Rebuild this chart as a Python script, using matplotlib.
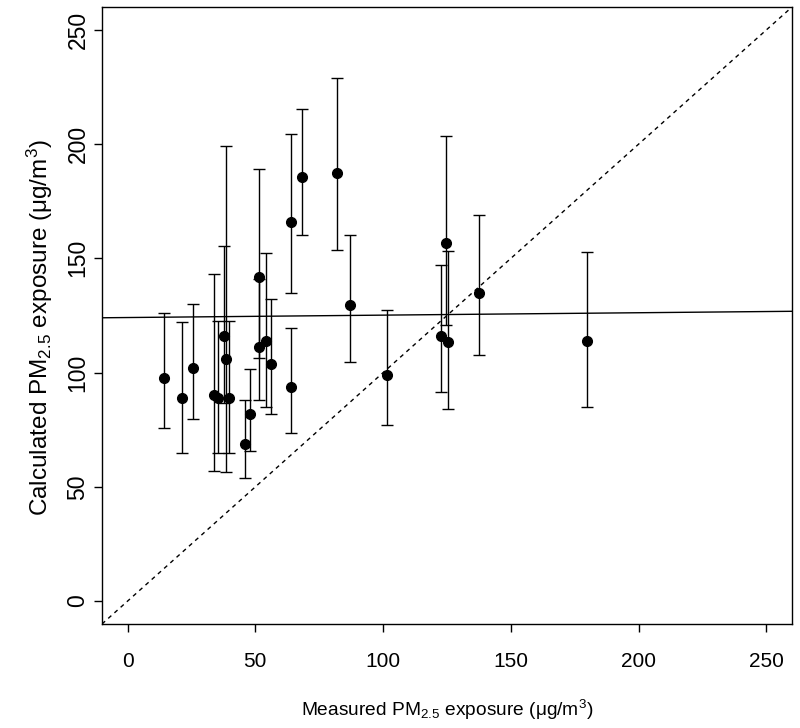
import matplotlib
matplotlib.use("Agg")
import matplotlib.pyplot as plt
import numpy as np
import warnings
warnings.filterwarnings("ignore")

# Measured vs calculated PM2.5 exposure (ug/m3) with error bars (lower/upper)
measured = [14.3, 21.4, 25.7, 34.0, 35.3, 37.9, 38.5, 39.6, 51.3, 51.3,
            54.0, 56.2, 48.1, 45.9, 63.8, 68.3, 81.8, 87.2, 64.0, 124.8,
            122.8, 125.3, 137.7, 101.4, 179.6]
calculated = [97.8, 89.0, 101.8, 90.2, 89.0, 116.0, 105.8, 89.0, 141.7, 111.3,
              113.8, 103.9, 81.7, 68.9, 165.9, 185.6, 187.4, 129.4, 93.8, 156.8,
              116.0, 113.5, 134.7, 99.0, 113.8]
lower = [75.9, 64.7, 79.9, 57.0, 64.7, 86.6, 56.5, 64.7, 106.2, 88.0,
         85.0, 81.8, 65.6, 54.0, 134.9, 160.0, 153.5, 104.6, 73.6, 120.7,
         91.6, 84.1, 107.5, 77.1, 84.9]
upper = [125.9, 122.3, 130.1, 143.3, 122.5, 155.3, 199.0, 122.5, 189.1, 140.8,
         152.5, 132.0, 101.7, 88.0, 204.4, 215.3, 228.9, 160.1, 119.5, 203.7,
         146.9, 153.1, 168.8, 127.2, 152.7]

# Fitted line
fit_intercept = 124.1
fit_slope = 0.0105

x_ticks = [0, 50, 100, 150, 200, 250]
y_ticks = [0, 50, 100, 150, 200, 250]

plt.rcParams['font.family'] = ['Liberation Sans', 'DejaVu Sans']
plt.rcParams['mathtext.fontset'] = 'custom'
plt.rcParams['mathtext.rm'] = 'Liberation Sans'
plt.rcParams['mathtext.default'] = 'regular'

fig = plt.figure(figsize=(8.0, 7.28), dpi=100)
ax = fig.add_axes([0.1275, 0.1429, 0.8625, 0.8475])

m = np.array(measured)
c = np.array(calculated)
lo = np.array(lower)
up = np.array(upper)

ax.errorbar(m, c, yerr=[c - lo, up - c], fmt='o', color='black', ecolor='black',
            elinewidth=1.0, capsize=4.5, capthick=1.0, markersize=7, zorder=3)

ax.axline((0, fit_intercept), slope=fit_slope, color='black', lw=1.0, zorder=2)
ax.axline((0, 0), slope=1, color='black', lw=1.0, dashes=(3, 3), zorder=2)

ax.set_xlim(-10, 260)
ax.set_ylim(-10, 260)
ax.set_xticks(x_ticks)
ax.set_yticks(y_ticks)
ax.set_xticklabels([str(t) for t in x_ticks])
ax.set_yticklabels([str(t) for t in y_ticks], rotation=90, va='center')

ax.tick_params(axis='both', direction='out', length=6, width=1.0)
ax.tick_params(axis='x', labelsize=15, pad=14)
ax.tick_params(axis='y', labelsize=16.5, pad=3)
for s in ax.spines.values():
    s.set_linewidth(1.0)

ax.set_xlabel(r'Measured PM$_{2.5}$ exposure ($\mu$g/m$^3$)', fontsize=13.8)
ax.set_ylabel(r'Calculated PM$_{2.5}$ exposure ($\mu$g/m$^3$)', fontsize=17.5)
ax.xaxis.label.set_va('center')
ax.yaxis.label.set_va('center')
ax.xaxis.set_label_coords(0.5, -0.1394)
ax.yaxis.set_label_coords(-0.0899, 0.48)

fig.savefig('out.png', dpi=100)
